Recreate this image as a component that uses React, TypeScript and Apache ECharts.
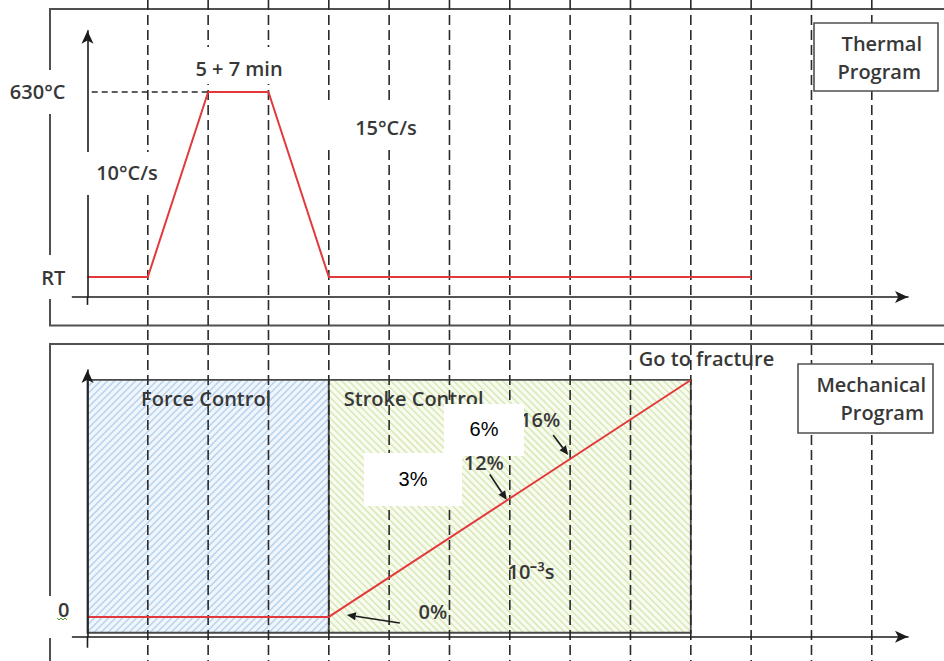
import React, { useEffect, useRef } from 'react';
import * as echarts from 'echarts';

// ---------------- data ----------------
// Thermal program (x in time divisions, y in °C)
const thermalTime = [0, 1, 2, 3, 4, 11];
const thermalTemp = [25, 25, 630, 630, 25, 25];
const thermalTickValues = [25, 630];
const thermalTickLabels = ['RT', '630°C'];
const holdTemp = 630;
const holdStartTime = 2;

// Mechanical program (x in time divisions, y in strain %)
const strainTime = [0, 4, 10];
const strainValue = [0, 0, 24];
const strainTickValues = [0];
const strainTickLabels = ['0'];

// Control zones
const zoneNames = ['Force Control', 'Stroke Control'];
const zoneStart = [0, 4];
const zoneEnd = [4, 10];
const zoneBottom = [-1.6, -1.6];
const zoneTop = [24, 24];

// Dashed time divisions
const dashTimes = [1, 2, 3, 4, 5, 6, 7, 8, 9, 10, 11, 12, 13];

// Strain annotations
const strainMarkTime = [4, 7, 8];
const strainMarkValue = [0, 12, 16];
const strainMarkLabels = ['0%', '12%', '16%'];
const coverLabels = ['3%', '6%'];

export default function App() {
  const ref = useRef<HTMLDivElement>(null);

  useEffect(() => {
    const el = ref.current as HTMLDivElement;
    const chart = echarts.init(el, null, { renderer: 'svg' });

    const font = '"Open Sans", "Liberation Sans", sans-serif';
    const textColor = '#383838';
    const weight = 600;
    const fsize = 20;
    const ink = '#1c1c1c';
    const red = '#e3393c';

    const axisLineCommon = {
      onZero: false,
      symbol: ['none', 'arrow'],
      symbolSize: [9, 13],
      lineStyle: { color: ink, width: 1.6 },
    };

    const xAxisBase = {
      type: 'value',
      min: -0.25,
      max: 13.6,
      axisLine: axisLineCommon,
      axisTick: { show: false },
      axisLabel: { show: false },
      splitLine: { show: false },
      z: 5,
    };

    const hatchBg = ['#f0f6fc', '#f8fbf0'];
    const hatchLine = ['#b9d4ee', '#d9e8b6'];

    const option: any = {
      animation: false,
      backgroundColor: '#ffffff',
      grid: [
        { left: 72.4, top: 30.8, width: 835.6, height: 266.1, containLabel: false, outerBoundsMode: 'none' },
        { left: 72.4, top: 370.1, width: 835.6, height: 266.6, containLabel: false, outerBoundsMode: 'none' },
      ],
      xAxis: [
        { ...xAxisBase, gridIndex: 0 },
        { ...xAxisBase, gridIndex: 1 },
      ],
      yAxis: [
        {
          gridIndex: 0,
          type: 'value',
          min: -40,
          max: 830,
          z: 5,
          axisLine: { ...axisLineCommon, onZero: true },
          axisTick: { show: false },
          splitLine: { show: false },
          axisLabel: {
            customValues: thermalTickValues,
            formatter: (v: number) => {
              const i = thermalTickValues.indexOf(v);
              return i >= 0 ? thermalTickLabels[i] : '';
            },
            margin: 5,
            color: textColor,
            fontSize: fsize,
            fontWeight: weight,
            fontFamily: font,
            backgroundColor: '#ffffff',
            padding: [12, 2, 12, 24],
          },
        },
        {
          gridIndex: 1,
          type: 'value',
          min: -2,
          max: 25,
          z: 5,
          axisLine: { ...axisLineCommon, onZero: true },
          axisTick: { show: false },
          splitLine: { show: false },
          axisLabel: {
            customValues: strainTickValues,
            formatter: (v: number) => {
              const i = strainTickValues.indexOf(v);
              return i >= 0 ? strainTickLabels[i] + '\n ' : '';
            },
            margin: 1,
            color: textColor,
            fontSize: fsize,
            fontWeight: weight,
            fontFamily: font,
            lineHeight: 14,
            backgroundColor: '#ffffff',
            padding: [8, 2, 6, 16],
          },
        },
      ],
      series: [
        {
          type: 'custom',
          name: 'zones',
          coordinateSystem: 'cartesian2d',
          xAxisIndex: 1,
          yAxisIndex: 1,
          z: 2,
          clip: false,
          encode: { x: [0, 1], y: [2, 3] },
          data: zoneStart.map((s, i) => [s, zoneEnd[i], zoneBottom[i], zoneTop[i], i]),
          renderItem: (params: any, api: any) => {
            const k = api.value(4);
            const p0 = api.coord([api.value(0), api.value(3)]);
            const p1 = api.coord([api.value(1), api.value(2)]);
            const left = p0[0], top = p0[1], right = p1[0], bottom = p1[1];
            const children: any[] = [
              {
                type: 'rect',
                shape: { x: left, y: top, width: right - left, height: bottom - top },
                style: { fill: hatchBg[k] },
              },
            ];
            const step = 7;
            if (k === 0) {
              for (let c = left + top; c <= right + bottom; c += step) {
                const xa = Math.max(left, c - bottom);
                const xb = Math.min(right, c - top);
                if (xb > xa) {
                  children.push({
                    type: 'line',
                    shape: { x1: xa, y1: c - xa, x2: xb, y2: c - xb },
                    style: { stroke: hatchLine[k], lineWidth: 1.6 },
                  });
                }
              }
            } else {
              for (let c = top - right; c <= bottom - left; c += step) {
                const xa = Math.max(left, top - c);
                const xb = Math.min(right, bottom - c);
                if (xb > xa) {
                  children.push({
                    type: 'line',
                    shape: { x1: xa, y1: xa + c, x2: xb, y2: xb + c },
                    style: { stroke: hatchLine[k], lineWidth: 1.6 },
                  });
                }
              }
            }
            children.push({
              type: 'rect',
              shape: { x: left, y: top, width: right - left, height: bottom - top },
              style: { fill: 'none', stroke: '#4a4a4a', lineWidth: 1.8 },
            });
            return { type: 'group', children };
          },
        },
        {
          type: 'line',
          name: 'Thermal',
          xAxisIndex: 0,
          yAxisIndex: 0,
          z: 4,
          symbol: 'none',
          lineStyle: { color: red, width: 2 },
          data: thermalTime.map((t, i) => [t, thermalTemp[i]]),
          markLine: {
            silent: true,
            symbol: ['none', 'none'],
            label: { show: false },
            lineStyle: { color: '#2a2a2a', width: 1.5, type: [6, 4] },
            data: [[{ coord: [0.07, holdTemp] }, { coord: [holdStartTime, holdTemp] }]],
          },
        },
        {
          type: 'line',
          name: 'Mechanical',
          xAxisIndex: 1,
          yAxisIndex: 1,
          z: 4,
          symbol: 'none',
          lineStyle: { color: red, width: 2 },
          data: strainTime.map((t, i) => [t, strainValue[i]]),
        },
      ],
    };

    chart.setOption(option);

    const px = (g: number, x: number, y: number) =>
      chart.convertToPixel({ gridIndex: g }, [x, y]) as number[];

    const graphics: any[] = [];

    // panel frames
    graphics.push({
      type: 'polyline',
      z: 1,
      shape: { points: [[960, 9], [50, 9], [50, 325.5], [960, 325.5]] },
      style: { fill: 'none', stroke: '#505050', lineWidth: 2 },
    });
    graphics.push({
      type: 'polyline',
      z: 1,
      shape: { points: [[960, 344], [50, 344], [50, 680]] },
      style: { fill: 'none', stroke: '#505050', lineWidth: 2 },
    });

    // dashed time divisions
    dashTimes.forEach((t) => {
      const x = px(0, t, 0)[0];
      graphics.push({
        type: 'line',
        z: 3,
        shape: { x1: x, y1: 0, x2: x, y2: 661 },
        style: { stroke: '#2a2a2a', lineWidth: 1.6, lineDash: [10, 5] },
      });
    });

    // y axis stubs below the x axis
    const o0 = px(0, 0, -40);
    graphics.push({ type: 'line', z: 5, shape: { x1: o0[0], y1: o0[1], x2: o0[0], y2: o0[1] + 8 }, style: { stroke: ink, lineWidth: 1.6 } });
    const o1 = px(1, 0, -2);
    graphics.push({ type: 'line', z: 5, shape: { x1: o1[0], y1: o1[1], x2: o1[0], y2: o1[1] + 11 }, style: { stroke: ink, lineWidth: 1.6 } });

    const text = (x: number, y: number, t: string, o: any = {}) => ({
      type: 'text',
      z: o.z ?? 9,
      x,
      y,
      style: {
        text: t,
        fill: o.color ?? textColor,
        fontSize: o.size ?? fsize,
        fontFamily: o.family ?? font,
        fontWeight: o.weight ?? weight,
        align: o.align ?? 'center',
        textAlign: o.align ?? 'center',
        verticalAlign: 'middle',
        textVerticalAlign: 'middle',
      },
    });
    const whiteBox = (x: number, y: number, w: number, h: number, z = 8) => ({
      type: 'rect',
      z,
      shape: { x, y, width: w, height: h },
      style: { fill: '#ffffff' },
    });

    // thermal annotations
    graphics.push(whiteBox(186, 47, 108, 37));
    graphics.push(text(239, 68, '5 + 7 min'));
    graphics.push(whiteBox(80, 152, 82, 43));
    graphics.push(text(127, 172, '10°C/s'));
    graphics.push(whiteBox(318, 103, 114, 45));
    graphics.push(text(386, 127, '15°C/s'));

    // program boxes
    graphics.push({ type: 'rect', z: 8, shape: { x: 814, y: 23, width: 124, height: 68 }, style: { fill: '#fff', stroke: '#505050', lineWidth: 1.6 } });
    graphics.push(text(922, 43, 'Thermal', { align: 'right' }));
    graphics.push(text(921, 71, 'Program', { align: 'right' }));
    graphics.push({ type: 'rect', z: 8, shape: { x: 798, y: 364, width: 135, height: 69 }, style: { fill: '#fff', stroke: '#505050', lineWidth: 1.6 } });
    graphics.push(text(926, 384, 'Mechanical', { align: 'right' }));
    graphics.push(text(924, 412, 'Program', { align: 'right' }));

    // zone labels
    const z0a = px(1, zoneStart[0], zoneTop[0]);
    const z0b = px(1, zoneEnd[0], zoneTop[0]);
    graphics.push(text((z0a[0] + z0b[0]) / 2 - 2, z0a[1] + 19, zoneNames[0]));
    const z1a = px(1, zoneStart[1], zoneTop[1]);
    graphics.push(text(z1a[0] + 15, z1a[1] + 19, zoneNames[1], { align: 'left' }));

    // end of the strain line
    const endPt = px(1, strainTime[strainTime.length - 1], strainValue[strainValue.length - 1]);
    graphics.push(text(endPt[0] - 52, endPt[1] - 21, 'Go to fracture', { align: 'left' }));

    // strain rate
    graphics.push(text(531, 571, '10⁻³s'));

    // strain marks with arrows
    const tipOff = [[18, -2], [-3, 1.5], [-2, -4]];
    const tailOff = [[71, 6], [-20, -24], [-17, -24]];
    const labelOff = [[104, -5], [-26, -36], [-30, -39]];
    strainMarkTime.forEach((t, i) => {
      const p = px(1, t, strainMarkValue[i]);
      const tip = [p[0] + tipOff[i][0], p[1] + tipOff[i][1]];
      const tail = [p[0] + tailOff[i][0], p[1] + tailOff[i][1]];
      const dx = tip[0] - tail[0], dy = tip[1] - tail[1];
      const len = Math.hypot(dx, dy);
      const ux = dx / len, uy = dy / len;
      const nx = -uy, ny = ux;
      const hl = 9, hw = 4;
      const base = [tip[0] - ux * hl, tip[1] - uy * hl];
      graphics.push({ type: 'line', z: 7, shape: { x1: tail[0], y1: tail[1], x2: base[0], y2: base[1] }, style: { stroke: ink, lineWidth: 1.6 } });
      graphics.push({
        type: 'polygon',
        z: 7,
        shape: { points: [tip, [base[0] + nx * hw, base[1] + ny * hw], [base[0] - nx * hw, base[1] - ny * hw]] },
        style: { fill: ink },
      });
      graphics.push(text(p[0] + labelOff[i][0], p[1] + labelOff[i][1], strainMarkLabels[i]));
    });

    // white cover boxes
    graphics.push(whiteBox(364, 453, 98, 53, 10));
    graphics.push(text(413, 479, coverLabels[0], { family: '"Liberation Sans", Arial, sans-serif', color: '#000', size: 20, weight: 'normal', z: 11 }));
    graphics.push(whiteBox(444, 404, 80, 52, 10));
    graphics.push(text(484, 429, coverLabels[1], { family: '"Liberation Sans", Arial, sans-serif', color: '#000', size: 20, weight: 'normal', z: 11 }));

    // green squiggle under the 0 label
    graphics.push({
      type: 'polyline',
      z: 9,
      shape: { points: [[57, 618], [59, 620], [61, 618], [63, 620], [65, 618], [67, 620]] },
      style: { fill: 'none', stroke: '#4f9a2a', lineWidth: 1 },
    });

    chart.setOption({ graphic: graphics });

    return () => {
      chart.dispose();
    };
  }, []);

  return (
    <div
      ref={ref}
      style={{ position: 'absolute', left: 0, top: 0, width: 944, height: 661, background: '#fff' }}
    />
  );
}
